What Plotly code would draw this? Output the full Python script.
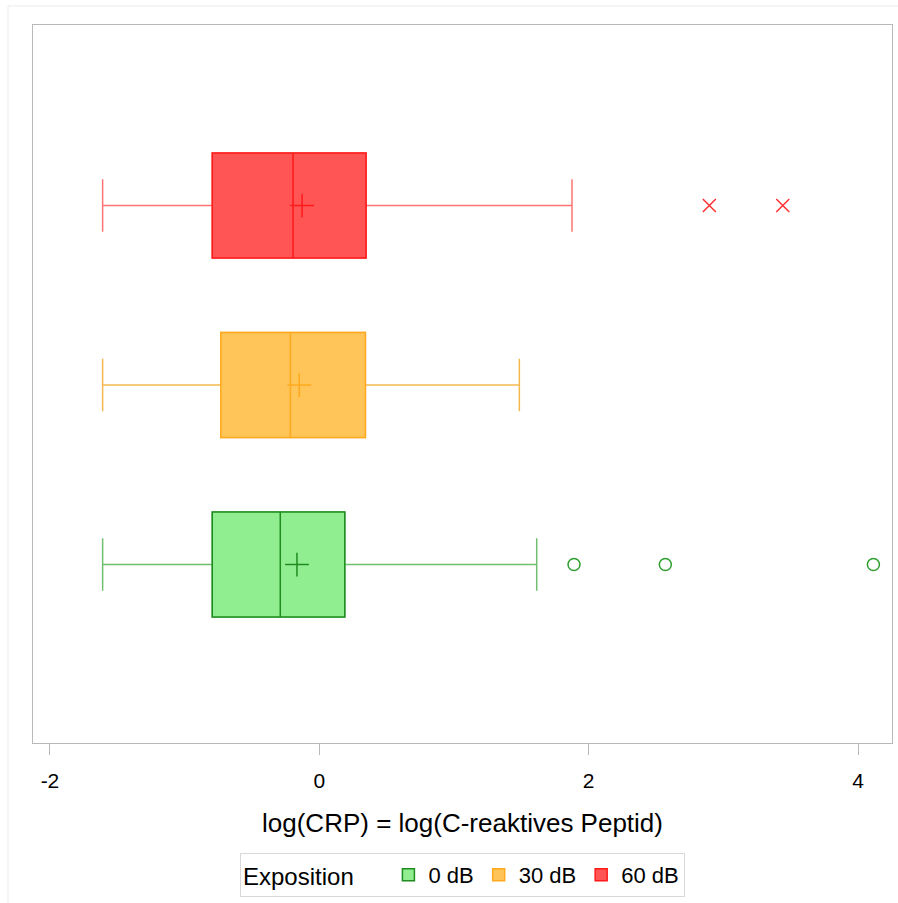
import plotly.graph_objects as go

# Exposure groups (bottom to top) and their summary statistics of log(CRP)
groups = ["0 dB", "30 dB", "60 dB"]
positions = [0, 1, 2]
lower_whisker = [-1.609, -1.609, -1.609]
q1 = [-0.795, -0.732, -0.795]
median = [-0.290, -0.215, -0.195]
q3 = [0.189, 0.342, 0.347]
upper_whisker = [1.614, 1.485, 1.876]
means = [-0.166, -0.149, -0.128]

# Outlying observations per group
outliers = {
    "0 dB": [1.891, 2.569, 4.114],
    "30 dB": [],
    "60 dB": [2.896, 3.441],
}

x_ticks = [-2, 0, 2, 4]
x_tick_labels = [str(v) for v in x_ticks]

# Styling per group
fill_colors = ["#90EE90", "#FFC558", "#FF5555"]
edge_colors = ["#1E8C1E", "#FFAA1E", "#FF1A1A"]
whisker_colors = ["#6FBF6F", "#F5B850", "#FF7474"]
outlier_symbols = ["circle-open", "circle-open", "x-thin"]
outlier_colors = ["#2E9E2E", "#FFAA1E", "#FF3030"]
outlier_sizes = [12, 12, 13]

FONT = "Arial, Liberation Sans, sans-serif"
BOX_W = 0.585

fig = go.Figure()

for i, g in enumerate(groups):
    # whiskers and caps (lighter stroke)
    fig.add_trace(go.Box(
        orientation="h", y=[positions[i]],
        q1=[q1[i]], median=[median[i]], q3=[q3[i]],
        lowerfence=[lower_whisker[i]], upperfence=[upper_whisker[i]],
        width=BOX_W, whiskerwidth=0.5,
        fillcolor=fill_colors[i], line=dict(color=whisker_colors[i], width=1.5),
        showlegend=False, hoverinfo="skip", boxpoints=False,
    ))
    # box body with median line (stronger stroke)
    fig.add_trace(go.Box(
        orientation="h", y=[positions[i]], name=g,
        q1=[q1[i]], median=[median[i]], q3=[q3[i]],
        lowerfence=[q1[i]], upperfence=[q3[i]],
        width=BOX_W, whiskerwidth=0,
        fillcolor=fill_colors[i], line=dict(color=edge_colors[i], width=1.5),
        showlegend=True, boxpoints=False,
    ))
    # mean marker
    fig.add_trace(go.Scatter(
        x=[means[i]], y=[positions[i]], mode="markers",
        marker=dict(symbol="cross-thin", size=17,
                    line=dict(color=edge_colors[i], width=1.5)),
        showlegend=False, hoverinfo="skip",
    ))
    # outliers
    if outliers[g]:
        fig.add_trace(go.Scatter(
            x=outliers[g], y=[positions[i]] * len(outliers[g]), mode="markers",
            marker=dict(symbol=outlier_symbols[i], size=outlier_sizes[i],
                        color=outlier_colors[i],
                        line=dict(color=outlier_colors[i], width=1.5)),
            showlegend=False, hoverinfo="skip",
        ))

fig.update_layout(
    width=898, height=903,
    margin=dict(l=33, r=6, t=25, b=160),
    paper_bgcolor="white", plot_bgcolor="white",
    boxmode="overlay",
    font=dict(family=FONT, color="black"),
    xaxis=dict(
        range=[-2.126, 4.252], tickvals=x_ticks, ticktext=x_tick_labels,
        ticks="outside", ticklen=11, tickcolor="#b8b8b8", tickwidth=1,
        tickfont=dict(size=21, family=FONT), ticklabelstandoff=8,
        showgrid=False, zeroline=False,
        showline=True, linecolor="#b8b8b8", linewidth=1, mirror=True,
        title=dict(text="log(CRP) = log(C-reaktives Peptid)",
                   font=dict(size=26, family=FONT), standoff=22),
    ),
    yaxis=dict(
        range=[-0.994, 3.006], showticklabels=False, ticks="",
        showgrid=False, zeroline=False,
        showline=True, linecolor="#b8b8b8", linewidth=1, mirror=True,
    ),
    legend=dict(
        orientation="h", x=0.5, xanchor="center", y=-0.153, yanchor="top",
        bordercolor="#d8d8d8", borderwidth=1,
        font=dict(size=22, family=FONT),
        title=dict(text="Exposition    ", font=dict(size=24, family=FONT), side="left"),
        traceorder="normal",
    ),
    shapes=[dict(
        type="rect", xref="paper", yref="paper",
        x0=-0.0291, x1=1.05, y0=-0.3, y1=1.0265,
        line=dict(color="#ebebeb", width=1), fillcolor="rgba(0,0,0,0)",
        layer="below",
    )],
)

fig.write_html("out.html")
